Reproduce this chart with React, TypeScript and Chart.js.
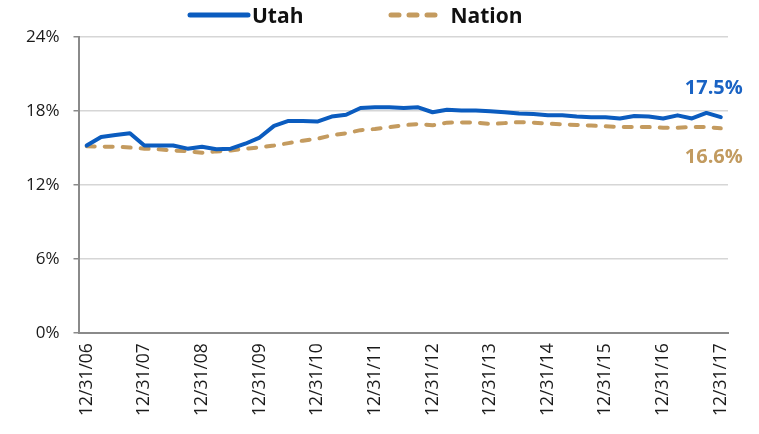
import React, { useEffect, useRef } from "react";
import { Chart, registerables } from "chart.js";

Chart.register(...registerables);

const quarters = [
  "12/31/06",
  "3/31/07", "6/30/07", "9/30/07", "12/31/07",
  "3/31/08", "6/30/08", "9/30/08", "12/31/08",
  "3/31/09", "6/30/09", "9/30/09", "12/31/09",
  "3/31/10", "6/30/10", "9/30/10", "12/31/10",
  "3/31/11", "6/30/11", "9/30/11", "12/31/11",
  "3/31/12", "6/30/12", "9/30/12", "12/31/12",
  "3/31/13", "6/30/13", "9/30/13", "12/31/13",
  "3/31/14", "6/30/14", "9/30/14", "12/31/14",
  "3/31/15", "6/30/15", "9/30/15", "12/31/15",
  "3/31/16", "6/30/16", "9/30/16", "12/31/16",
  "3/31/17", "6/30/17", "9/30/17", "12/31/17",
];

const utah = [
  15.2,
  15.9, 16.05, 16.2, 15.2,
  15.2, 15.2, 14.95, 15.1,
  14.9, 14.95, 15.35, 15.85,
  16.8, 17.2, 17.2, 17.15,
  17.55, 17.7, 18.25, 18.3,
  18.3, 18.25, 18.3, 17.9,
  18.1, 18.05, 18.05, 17.98,
  17.9, 17.8, 17.75, 17.65,
  17.65, 17.55, 17.5, 17.5,
  17.4, 17.6, 17.55, 17.4,
  17.65, 17.4, 17.85, 17.5,
];

const nation = [
  15.15,
  15.12, 15.1, 15.05, 14.95,
  14.9, 14.8, 14.75, 14.62,
  14.73, 14.8, 14.95, 15.05,
  15.2, 15.4, 15.6, 15.75,
  16.03, 16.2, 16.45, 16.55,
  16.7, 16.85, 16.95, 16.84,
  17.06, 17.08, 17.06, 16.95,
  17.02, 17.1, 17.06, 16.98,
  16.92, 16.87, 16.82, 16.76,
  16.7, 16.7, 16.7, 16.65,
  16.65, 16.7, 16.7, 16.6,
];

const yTicks = [0, 6, 12, 18, 24];

const seriesNames = ["Utah", "Nation"];
const seriesColors = ["#0b5cbf", "#c49b5f"];
const labelColors = ["#1a63c4", "#c29b60"];

const FONT = '"Open Sans", "Noto Sans", sans-serif';

const endLabels = {
  id: "endLabels",
  afterDatasetsDraw(chart: any) {
    const ctx = chart.ctx;
    chart.data.datasets.forEach((ds: any, i: number) => {
      const meta = chart.getDatasetMeta(i);
      const pt = meta.data[meta.data.length - 1];
      const val = ds.data[ds.data.length - 1];
      ctx.save();
      ctx.font = `bold 20px ${FONT}`;
      ctx.fillStyle = labelColors[i];
      ctx.textAlign = "right";
      ctx.textBaseline = "middle";
      const dy = i === 0 ? -29 : 29;
      ctx.fillText(val.toFixed(1) + "%", pt.x + 22, pt.y + dy);
      ctx.restore();
    });
  },
};

function LegendItem({ name, color, dashed, width }: { name: string; color: string; dashed: boolean; width: number }) {
  return (
    <div style={{ display: "flex", alignItems: "center" }}>
      <svg width={width} height={10} style={{ display: "block" }}>
        <line
          x1={3}
          y1={5}
          x2={width - 3}
          y2={5}
          stroke={color}
          strokeWidth={5}
          strokeLinecap="round"
          strokeDasharray={dashed ? "8 10" : undefined}
        />
      </svg>
      <span
        style={{
          fontFamily: FONT,
          fontWeight: 700,
          fontSize: 21,
          color: "#111",
          marginLeft: dashed ? 10 : 1,
          lineHeight: "28px",
        }}
      >
        {name}
      </span>
    </div>
  );
}

export default function App() {
  const canvasRef = useRef<HTMLCanvasElement | null>(null);

  useEffect(() => {
    if (!canvasRef.current) return;
    const chart = new Chart(canvasRef.current, {
      type: "line",
      data: {
        labels: quarters,
        datasets: [
          {
            label: seriesNames[0],
            data: utah,
            borderColor: seriesColors[0],
            backgroundColor: seriesColors[0],
            borderWidth: 4,
            pointRadius: 0,
            tension: 0,
            borderCapStyle: "round",
            borderJoinStyle: "round",
          },
          {
            label: seriesNames[1],
            data: nation,
            borderColor: seriesColors[1],
            backgroundColor: seriesColors[1],
            borderWidth: 4,
            pointRadius: 0,
            tension: 0,
            borderDash: [8, 10],
            borderCapStyle: "round",
            borderJoinStyle: "round",
          },
        ],
      },
      options: {
        animation: false,
        responsive: false,
        maintainAspectRatio: false,
        layout: { padding: { top: 37, left: 12, right: 31, bottom: 8 } },
        plugins: {
          legend: { display: false },
          tooltip: { enabled: false },
        },
        scales: {
          x: {
            type: "category",
            offset: true,
            grid: { display: false, drawTicks: false },
            border: { display: true, color: "#8a8a8a", width: 2 },
            ticks: {
              autoSkip: false,
              minRotation: 90,
              maxRotation: 90,
              padding: 10,
              color: "#1a1a1a",
              font: { family: FONT, size: 17.5 },
              callback: (_v: any, i: number) => (quarters[i].startsWith("12/31") ? quarters[i] : ""),
            },
          },
          y: {
            min: yTicks[0],
            max: yTicks[yTicks.length - 1],
            afterBuildTicks: (axis: any) => {
              axis.ticks = yTicks.map((v) => ({ value: v }));
            },
            grid: {
              color: "#d6d6d6",
              lineWidth: 1.5,
              tickLength: 6,
              tickColor: "#8a8a8a",
              drawTicks: true,
            },
            border: { display: true, color: "#8a8a8a", width: 2 },
            ticks: {
              padding: 14,
              color: "#1a1a1a",
              font: { family: FONT, size: 17 },
              callback: (v: any) => v + "%",
            },
          },
        },
      },
      plugins: [endLabels],
    });
    return () => chart.destroy();
  }, []);

  return (
    <div style={{ position: "fixed", left: 0, top: 0, width: 759, height: 434, background: "#fff" }}>
      <canvas ref={canvasRef} width={759} height={434} style={{ display: "block", width: 759, height: 434 }} />
      <div
        style={{
          position: "absolute",
          top: 1,
          left: 187,
          display: "flex",
          alignItems: "center",
        }}
      >
        <LegendItem name={seriesNames[0]} color={seriesColors[0]} dashed={false} width={64} />
        <div style={{ width: 85 }} />
        <LegendItem name={seriesNames[1]} color={seriesColors[1]} dashed={true} width={52} />
      </div>
    </div>
  );
}
